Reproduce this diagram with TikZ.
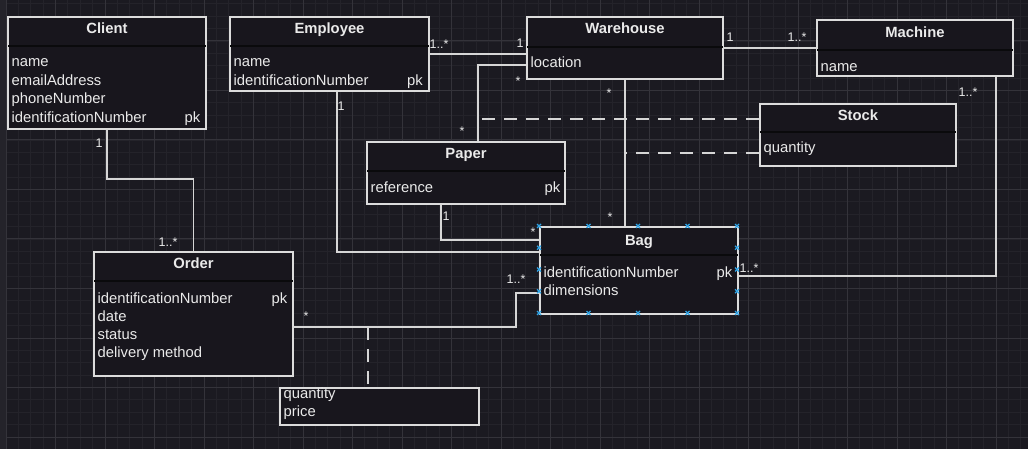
\documentclass[tikz,border=0pt]{standalone}
\usepackage{fontspec}
\setmainfont{Liberation Sans}
\usetikzlibrary{positioning}
\definecolor{bgc}{HTML}{1B1A21}
\definecolor{stripc}{HTML}{24232A}
\definecolor{gridmin}{HTML}{24232A}
\definecolor{gridmaj}{HTML}{34333A}
\definecolor{boxbg}{HTML}{18161D}
\definecolor{edge}{HTML}{DCDCDC}
\definecolor{wire}{HTML}{D6D6D6}
\definecolor{ink}{HTML}{EAEAEA}
\definecolor{hdr}{HTML}{0A0A0C}
\definecolor{handlec}{HTML}{2FA4E7}

\begin{document}
\begin{tikzpicture}[
  x=1pt, y=-1pt,
  font=\fontsize{14.8}{17}\selectfont,
  cls/.style      = {draw=edge, line width=2pt, fill=boxbg, anchor=north west, inner sep=0pt},
  hdrline/.style  = {draw=hdr, line width=1.6pt},
  ttl/.style      = {anchor=base, inner sep=0pt, text=ink, font=\fontsize{14.8}{17}\selectfont\bfseries},
  attr/.style     = {anchor=base west, inner sep=0pt, text=ink},
  pk/.style       = {anchor=base east, inner sep=0pt, text=ink},
  mult/.style     = {inner sep=0pt, text=ink, font=\fontsize{12.5}{14}\selectfont},
  assoc/.style    = {draw=wire, line width=1.9pt},
  dashlink/.style = {draw=wire, line width=1.9pt, dash pattern=on 13pt off 9pt},
  gridminor/.style= {draw=gridmin, line width=0.8pt},
  gridmajor/.style= {draw=gridmaj, line width=1pt},
  handle/.style   = {draw=handlec, line width=1.1pt},
]

% canvas
\fill[bgc] (0,0) rectangle (1028,449);
\useasboundingbox (0,0) rectangle (1028,449);
\foreach \i in {0,...,82} \draw[gridminor] ({6+12.375*\i},0) -- ({6+12.375*\i},449);
\foreach \j in {0,...,35} \draw[gridminor] (0,{3.875+12.375*\j}) -- (1028,{3.875+12.375*\j});
\foreach \k in {0,...,20} \draw[gridmajor] ({6+49.5*\k},0) -- ({6+49.5*\k},449);
\foreach \k in {0,...,8}  \draw[gridmajor] (0,{41+49.5*\k}) -- (1028,{41+49.5*\k});
\fill[stripc] (0,0) rectangle (6,449);

% =============== classes ===============
\node[cls, minimum width=198pt, minimum height=112pt] (client)    at (7,16)    {};
\node[cls, minimum width=199pt, minimum height=74pt]  (employee)  at (229,16)  {};
\node[cls, minimum width=196pt, minimum height=62pt]  (warehouse) at (526,16)  {};
\node[cls, minimum width=196pt, minimum height=56pt]  (machine)   at (816,19)  {};
\node[cls, minimum width=196pt, minimum height=62pt]  (stock)     at (759,103) {};
\node[cls, minimum width=198pt, minimum height=62pt]  (paper)     at (366,141) {};
\node[cls, minimum width=198pt, minimum height=87pt]  (bag)       at (539,226) {};
\node[cls, minimum width=199pt, minimum height=124pt] (order)     at (93,251)  {};
\node[cls, minimum width=199pt, minimum height=37pt]  (orderline) at (279,387) {};

\foreach \c/\h in {client/30, employee/30, warehouse/31, machine/31, stock/29, paper/30, bag/29, order/30}
  \draw[hdrline] ([xshift=1.2pt,yshift=-\h pt]\c.north west) -- ([xshift=-1.2pt,yshift=-\h pt]\c.north east);

\foreach \c/\t/\d in {client/Client/18, employee/Employee/18, warehouse/Warehouse/18, machine/Machine/19,
                      stock/Stock/18, paper/Paper/18, bag/Bag/19, order/Order/18}
  \node[ttl] (\c-t) at ([yshift=-\d pt]\c.north) {\t};

% attributes
\node[attr] (client-a1) at (11.5,67)    {name};
\node[attr] (client-a2) at (11.5,85.5)  {emailAddress};
\node[attr] (client-a3) at (11.5,104)   {phoneNumber};
\node[attr] (client-a4) at (11.5,122.5) {identificationNumber};
\node[pk]   (client-pk) at (200.5,122.5) {pk};

\node[attr] (employee-a1) at (233.5,67)   {name};
\node[attr] (employee-a2) at (233.5,85.5) {identificationNumber};
\node[pk]   (employee-pk) at (423,85.5)   {pk};

\node[attr] (warehouse-a1) at (530.5,68)   {location};
\node[attr] (machine-a1)   at (820.5,71.5) {name};
\node[attr] (stock-a1)     at (763.5,153)  {quantity};

\node[attr] (paper-a1) at (370.5,192.5) {reference};
\node[pk]   (paper-pk) at (560.5,192.5) {pk};

\node[attr] (bag-a1) at (543.5,277)   {identificationNumber};
\node[attr] (bag-a2) at (543.5,295.5) {dimensions};
\node[pk]   (bag-pk) at (732.5,277)   {pk};

\node[attr] (order-a1) at (97.5,303) {identificationNumber};
\node[attr] (order-a2) at (97.5,321) {date};
\node[attr] (order-a3) at (97.5,339) {status};
\node[attr] (order-a4) at (97.5,357) {delivery method};
\node[pk]   (order-pk) at (287.5,303) {pk};

\node[attr] (orderline-a1) at (283.5,398)   {quantity};
\node[attr] (orderline-a2) at (283.5,416.5) {price};

% =============== associations ===============
\draw[assoc] (client.south) -- ++(0,49) -| (order.north);
\draw[assoc] (employee.east) -- (employee.east -| warehouse.west);
\draw[assoc] ([yshift=-17pt]warehouse.west) -| ([xshift=12pt]paper.north);
\draw[assoc] ([xshift=7.5pt]employee.south) |- ([yshift=18.5pt]bag.west);
\draw[assoc] ([xshift=-25pt]paper.south) |- ([yshift=30.5pt]bag.west);
\draw[assoc] (warehouse.south) -- (warehouse.south |- bag.north);
\draw[assoc] (warehouse.east) -- (machine.west);
\draw[assoc] ([xshift=81pt]machine.south) |- ([yshift=-5.5pt]bag.east);
\draw[assoc] ([yshift=-13pt]order.east) -- ++(222,0) |- ([yshift=-22.5pt]bag.west);

% association classes
\coordinate (olink) at ([xshift=74pt,yshift=-13pt]order.east);
\coordinate (wp)    at ([xshift=12pt]paper.north);
\coordinate (s1)    at ([yshift=16pt]stock.west);
\coordinate (s2)    at ([yshift=-18pt]stock.west);
\draw[dashlink] (olink) -- (olink |- orderline.north);
\draw[dashlink] (s1) -- (s1 -| wp);
\draw[dashlink] (s2) -- (s2 -| warehouse.south);

% multiplicities
\node[mult] (m1)  at (99,143)  {1};
\node[mult] (m2)  at (168,242) {1..*};
\node[mult] (m3)  at (439,44)  {1..*};
\node[mult] (m4)  at (520,43)  {1};
\node[mult] (m5)  at (518,81)  {*};
\node[mult] (m6)  at (462,131) {*};
\node[mult] (m7)  at (341,106) {1};
\node[mult] (m8)  at (446,216) {1};
\node[mult] (m9)  at (533,232) {*};
\node[mult] (m10) at (609,93)  {*};
\node[mult] (m11) at (610,217) {*};
\node[mult] (m12) at (730,37)  {1};
\node[mult] (m13) at (797,37)  {1..*};
\node[mult] (m14) at (968,92)  {1..*};
\node[mult] (m15) at (749,268) {1..*};
\node[mult] (m16) at (306,316) {*};
\node[mult] (m17) at (516,279) {1..*};

% selection handles on Bag
\foreach \hx in {539,588.5,638,687.5,737} {
  \draw[handle] ({\hx-2},224) -- ({\hx+2},228) ({\hx-2},228) -- ({\hx+2},224);
  \draw[handle] ({\hx-2},311) -- ({\hx+2},315) ({\hx-2},315) -- ({\hx+2},311);
}
\foreach \hy in {247.75,269.5,291.25} {
  \draw[handle] (537,{\hy-2}) -- (541,{\hy+2}) (537,{\hy+2}) -- (541,{\hy-2});
  \draw[handle] (735,{\hy-2}) -- (739,{\hy+2}) (735,{\hy+2}) -- (739,{\hy-2});
}

\end{tikzpicture}
\end{document}
